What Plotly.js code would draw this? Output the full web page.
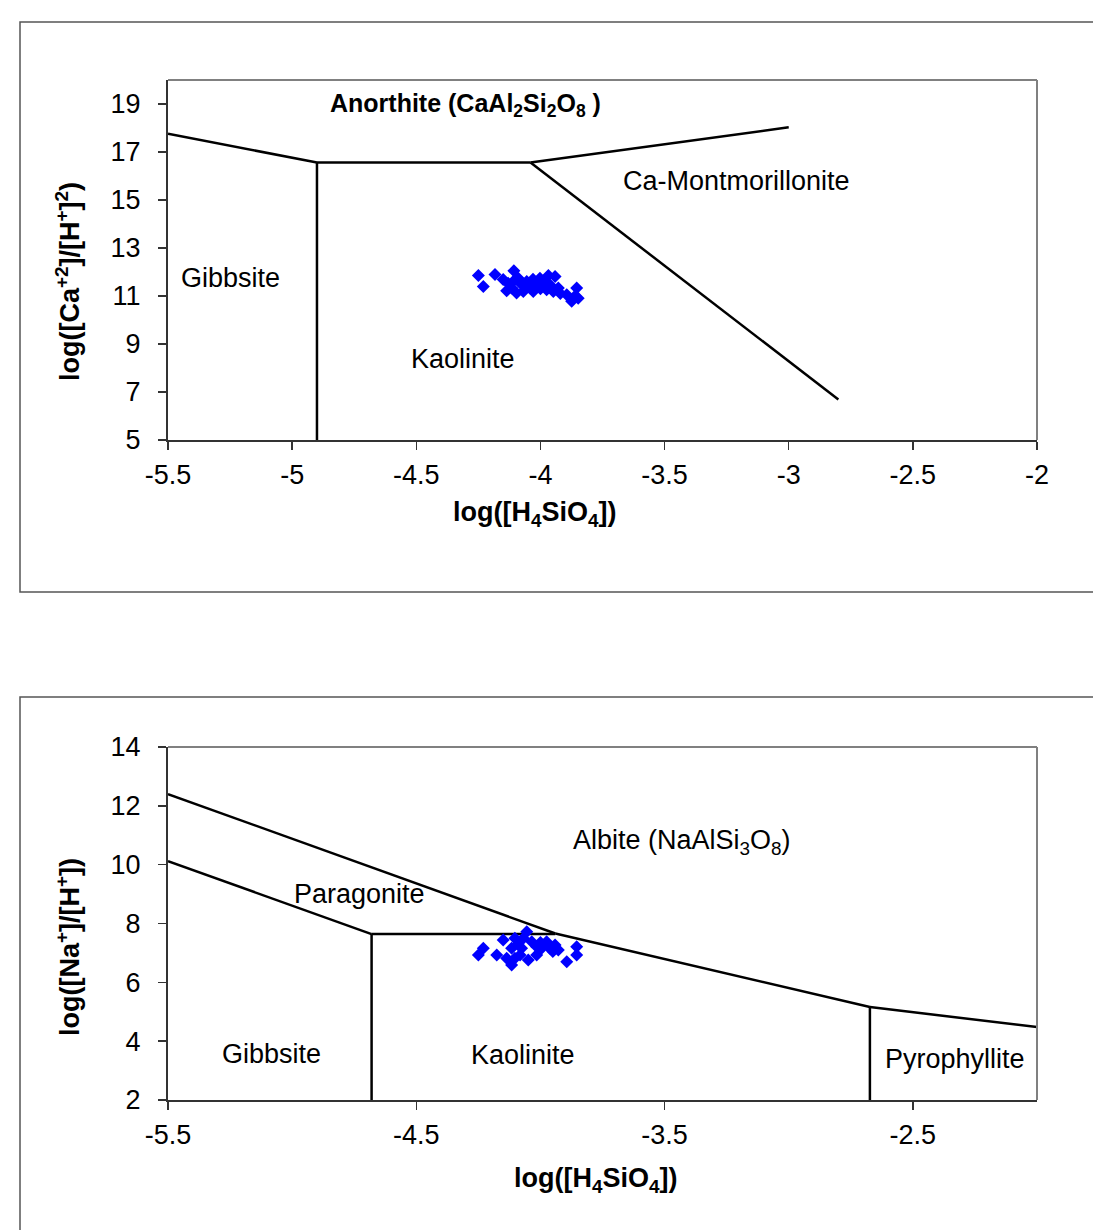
<!DOCTYPE html>
<html>
<head>
<meta charset="utf-8">
<script src="https://cdn.plot.ly/plotly-3.0.1.min.js"></script>
<style>
html, body { margin: 0; padding: 0; background: #fff; }
#chart { width: 1093px; height: 1230px; }
</style>
</head>
<body>
<div id="chart"></div>
<script>
// ---------- Ca system (top chart) ----------
const caXTicks = [-5.5, -5, -4.5, -4, -3.5, -3, -2.5, -2];
const caYTicks = [5, 7, 9, 11, 13, 15, 17, 19];
const caXTitle = "<b>log([H<sub>4</sub>SiO<sub>4</sub>])</b>";
const caYTitle = "<b>log([Ca<sup>+2</sup>]/[H<sup>+</sup>]<sup>2</sup>)</b>";

const caGibbsiteAnorthiteX = [-5.5, -4.9];
const caGibbsiteAnorthiteY = [17.76, 16.56];
const caGibbsiteKaoliniteX = [-4.9, -4.9];
const caGibbsiteKaoliniteY = [16.56, 5];
const caKaoliniteAnorthiteX = [-4.9, -4.04];
const caKaoliniteAnorthiteY = [16.56, 16.56];
const caMontAnorthiteX = [-4.04, -3.0];
const caMontAnorthiteY = [16.56, 18.03];
const caKaoliniteMontX = [-4.04, -2.8];
const caKaoliniteMontY = [16.56, 6.69];

const caSampleX = [-4.250, -4.230, -4.183, -4.107, -4.150, -4.130, -4.116, -4.089, -4.075, -4.055,
                   -4.042, -4.022, -4.002, -3.995, -3.968, -3.941, -3.962, -3.948, -3.928, -3.894,
                   -3.874, -3.854, -3.848, -4.096, -4.136, -4.069, -4.029, -3.975, -4.110, -4.060,
                   -4.000, -3.920, -3.860, -4.030, -3.980];
const caSampleY = [11.85, 11.40, 11.90, 12.05, 11.69, 11.53, 11.33, 11.74, 11.47, 11.60,
                   11.33, 11.53, 11.74, 11.40, 11.85, 11.81, 11.47, 11.19, 11.33, 11.05,
                   10.78, 11.33, 10.91, 11.12, 11.22, 11.19, 11.19, 11.26, 11.60, 11.45,
                   11.30, 11.10, 11.00, 11.70, 11.55];

const caLabels = ["<b>Anorthite (CaAl<sub>2</sub>Si<sub>2</sub>O<sub>8</sub> )</b>", "Ca-Montmorillonite", "Gibbsite", "Kaolinite"];
const caLabelX = [-4.3, -3.21, -5.25, -4.31];
const caLabelY = [18.95, 15.78, 11.73, 8.38];

// ---------- Na system (bottom chart) ----------
const naXTicks = [-5.5, -4.5, -3.5, -2.5];
const naYTicks = [2, 4, 6, 8, 10, 12, 14];
const naXTitle = "<b>log([H<sub>4</sub>SiO<sub>4</sub>])</b>";
const naYTitle = "<b>log([Na<sup>+</sup>]/[H<sup>+</sup>])</b>";

const naParagoniteAlbiteX = [-5.5, -3.94];
const naParagoniteAlbiteY = [12.40, 7.66];
const naKaoliniteAlbiteX = [-3.94, -2.673];
const naKaoliniteAlbiteY = [7.66, 5.16];
const naPyroAlbiteX = [-2.673, -2.0];
const naPyroAlbiteY = [5.16, 4.48];
const naGibbsiteParagoniteX = [-5.5, -4.68];
const naGibbsiteParagoniteY = [10.12, 7.64];
const naKaoliniteParagoniteX = [-4.68, -3.94];
const naKaoliniteParagoniteY = [7.64, 7.64];
const naGibbsiteKaoliniteX = [-4.68, -4.68];
const naGibbsiteKaoliniteY = [7.64, 2];
const naKaolinitePyroX = [-2.673, -2.673];
const naKaolinitePyroY = [5.16, 2];

const naSampleX = [-4.250, -4.230, -4.176, -4.150, -4.103, -4.055, -4.116, -4.103, -4.116, -4.076,
                   -4.049, -4.035, -4.015, -3.995, -3.975, -3.962, -3.941, -3.928, -3.894, -3.854,
                   -3.854, -4.136, -4.082, -4.015, -4.069, -4.090, -4.000, -3.950];
const naSampleY = [6.93, 7.16, 6.93, 7.44, 7.50, 7.72, 7.16, 6.82, 6.59, 7.16,
                   6.76, 7.38, 7.21, 7.16, 7.38, 7.16, 7.27, 7.10, 6.70, 7.21,
                   6.93, 6.82, 6.93, 6.93, 7.50, 7.30, 7.35, 7.05];

const naLabels = ["Albite (NaAlSi<sub>3</sub>O<sub>8</sub>)", "Paragonite", "Gibbsite", "Kaolinite", "Pyrophyllite"];
const naLabelX = [-3.43, -4.727, -5.085, -4.07, -2.33];
const naLabelY = [10.77, 9.0, 3.56, 3.52, 3.39];

// ---------- build ----------
const FONT = "Liberation Sans, Arial, sans-serif";
const lineStyle = {color: "#000", width: 2.5};

function seg(x, y, ax) {
  return {x: x, y: y, type: "scatter", mode: "lines", line: lineStyle,
          xaxis: ax[0], yaxis: ax[1], showlegend: false, hoverinfo: "skip"};
}
const A1 = ["x", "y"], A2 = ["x2", "y2"];

const traces = [
  seg(caGibbsiteAnorthiteX, caGibbsiteAnorthiteY, A1),
  seg(caGibbsiteKaoliniteX, caGibbsiteKaoliniteY, A1),
  seg(caKaoliniteAnorthiteX, caKaoliniteAnorthiteY, A1),
  seg(caMontAnorthiteX, caMontAnorthiteY, A1),
  seg(caKaoliniteMontX, caKaoliniteMontY, A1),
  {x: caSampleX, y: caSampleY, type: "scatter", mode: "markers",
   marker: {symbol: "diamond", size: 10, color: "#0000FF"}, xaxis: "x", yaxis: "y", showlegend: false},
  seg(naParagoniteAlbiteX, naParagoniteAlbiteY, A2),
  seg(naKaoliniteAlbiteX, naKaoliniteAlbiteY, A2),
  seg(naPyroAlbiteX, naPyroAlbiteY, A2),
  seg(naGibbsiteParagoniteX, naGibbsiteParagoniteY, A2),
  seg(naKaoliniteParagoniteX, naKaoliniteParagoniteY, A2),
  seg(naGibbsiteKaoliniteX, naGibbsiteKaoliniteY, A2),
  seg(naKaolinitePyroX, naKaolinitePyroY, A2),
  {x: naSampleX, y: naSampleY, type: "scatter", mode: "markers",
   marker: {symbol: "diamond", size: 10, color: "#0000FF"}, xaxis: "x2", yaxis: "y2", showlegend: false}
];

const W = 1093, H = 1230;
const xDom = [168 / W, 1037 / W];
const yDom1 = [1 - 440 / H, 1 - 80 / H];
const yDom2 = [1 - 1100 / H, 1 - 747 / H];

const tickFont = {family: FONT, size: 27, color: "#000"};
const titleFont = {family: FONT, size: 27, color: "#000"};

function xAxis(dom, anchor, ticks) {
  return {domain: dom, anchor: anchor, range: [-5.5, -2], tickmode: "array", tickvals: ticks,
          ticktext: ticks.map(String), showgrid: false, zeroline: false, showline: true,
          linecolor: "#333", linewidth: 2, ticks: "outside", ticklen: 8, tickwidth: 1.5,
          tickcolor: "#333", tickfont: tickFont, ticklabelstandoff: 2, fixedrange: true};
}
function yAxis(dom, anchor, range, ticks) {
  return {domain: dom, anchor: anchor, range: range, tickmode: "array", tickvals: ticks,
          ticktext: ticks.map(String), showgrid: false, zeroline: false, showline: true,
          linecolor: "#333", linewidth: 2, ticks: "outside", ticklen: 8, tickwidth: 1.5,
          tickcolor: "#333", tickfont: tickFont, ticklabelstandoff: 12, fixedrange: true};
}

const annotations = [];
caLabels.forEach((t, i) => annotations.push({x: caLabelX[i], y: caLabelY[i], xref: "x", yref: "y",
  text: t, showarrow: false, xanchor: "center", yanchor: "middle",
  font: {family: FONT, size: i === 0 ? 25 : 27, color: "#000"}}));
naLabels.forEach((t, i) => annotations.push({x: naLabelX[i], y: naLabelY[i], xref: "x2", yref: "y2",
  text: t, showarrow: false, xanchor: "center", yanchor: "middle",
  font: {family: FONT, size: 27, color: "#000"}}));

// axis titles (placed where the reference puts them)
annotations.push({xref: "paper", yref: "paper", x: 535 / W, y: 1 - 514 / H, text: caXTitle,
  showarrow: false, xanchor: "center", yanchor: "middle", font: titleFont});
annotations.push({xref: "paper", yref: "paper", x: 68 / W, y: 1 - 282 / H, text: caYTitle,
  showarrow: false, xanchor: "center", yanchor: "middle", textangle: -90, font: titleFont});
annotations.push({xref: "paper", yref: "paper", x: 596 / W, y: 1 - 1180 / H, text: naXTitle,
  showarrow: false, xanchor: "center", yanchor: "middle", font: titleFont});
annotations.push({xref: "paper", yref: "paper", x: 68 / W, y: 1 - 947 / H, text: naYTitle,
  showarrow: false, xanchor: "center", yanchor: "middle", textangle: -90, font: titleFont});

const borderGray = {color: "#808080", width: 2};
const shapes = [
  // outer chart boxes
  {type: "rect", xref: "paper", yref: "paper", x0: 20 / W, x1: 1.02, y0: 1 - 592 / H, y1: 1 - 22 / H,
   line: {color: "#555", width: 1.5}},
  {type: "rect", xref: "paper", yref: "paper", x0: 20 / W, x1: 1.02, y0: -0.02, y1: 1 - 697 / H,
   line: {color: "#555", width: 1.5}},
  // plot-area top and right borders
  {type: "line", xref: "x domain", yref: "y domain", x0: 0, x1: 1, y0: 1, y1: 1, line: borderGray},
  {type: "line", xref: "x domain", yref: "y domain", x0: 1, x1: 1, y0: 0, y1: 1, line: borderGray},
  {type: "line", xref: "x2 domain", yref: "y2 domain", x0: 0, x1: 1, y0: 1, y1: 1, line: borderGray},
  {type: "line", xref: "x2 domain", yref: "y2 domain", x0: 1, x1: 1, y0: 0, y1: 1, line: borderGray}
];

const layout = {
  width: W, height: H, margin: {l: 0, r: 0, t: 0, b: 0},
  paper_bgcolor: "#fff", plot_bgcolor: "#fff", showlegend: false,
  font: {family: FONT, color: "#000"},
  xaxis: xAxis(xDom, "y", caXTicks),
  yaxis: yAxis(yDom1, "x", [5, 20], caYTicks),
  xaxis2: xAxis(xDom, "y2", naXTicks),
  yaxis2: yAxis(yDom2, "x2", [2, 14], naYTicks),
  annotations: annotations,
  shapes: shapes
};

Plotly.newPlot("chart", traces, layout, {displayModeBar: false, staticPlot: true});
</script>
</body>
</html>
